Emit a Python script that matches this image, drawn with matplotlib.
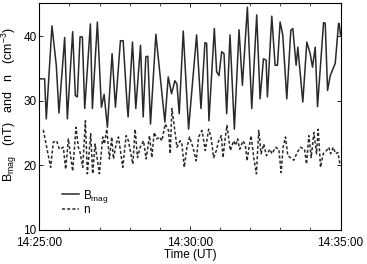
from datetime import datetime, timedelta

import matplotlib
matplotlib.use("Agg")
import matplotlib.pyplot as plt
import matplotlib.dates as mdates

# seconds after 14:25:00 UT
B_T = [0, 10.6, 14.0, 25.3, 33.9, 39.2, 50.6, 55.9, 66.5, 71.8, 75.8, 81.2, 85.8,
       90.5, 101.8, 105.8, 115.7, 123.7, 129.1, 135.7, 145.0, 151.7, 161.6, 167.0,
       175.0, 176.9, 185.6, 192.2, 201.6, 206.9, 212.2, 216.2, 221.5, 232.2, 250.1,
       256.8, 263.4, 270.1, 274.1, 278.7, 286.7, 297.3, 313.3, 322.0, 329.9, 333.3,
       337.9, 348.6, 353.2, 357.9, 363.2, 367.9, 373.2, 379.8, 388.5, 397.8, 404.5,
       414.4, 423.1, 433.0, 439.7, 446.4, 451.7, 454.3, 463.0, 469.6, 474.3, 479.6,
       484.9, 492.9, 500.9, 504.9, 511.5, 514.9, 524.8, 532.8, 539.5, 544.1, 549.5,
       554.1, 566.1, 569.4, 574.1, 579.4, 589.4, 596.0, 597.3, 600.0]
B_MAG = [33.4, 33.4, 27.2, 41.6, 35.5, 28.1, 39.8, 27.2, 40.7, 30.8, 30.6, 39.9, 39.9,
         28.8, 41.9, 28.8, 42.2, 29.0, 31.0, 25.9, 37.3, 29.0, 39.3, 39.3,
         29.3, 27.5, 39.1, 28.8, 38.6, 27.5, 36.8, 36.9, 26.4, 40.3, 26.7,
         33.7, 31.1, 33.1, 32.6, 28.0, 40.8, 25.6, 40.2, 28.8, 39.0, 38.9,
         26.9, 41.2, 34.5, 33.9, 37.6, 37.3, 28.0, 40.2, 25.6, 41.0, 32.4,
         44.5, 28.8, 43.3, 30.3, 36.5, 36.3, 30.6, 43.1, 35.5, 35.5, 42.2,
         40.2, 30.3, 40.9, 41.2, 35.5, 38.3, 29.8, 39.1, 37.3, 35.2, 38.3,
         29.1, 42.1, 42.0, 31.6, 33.9, 35.8, 42.0, 41.9, 40.2]

N_T = [8.0, 22.6, 27.9, 34.6, 39.9, 47.9, 52.6, 57.9, 66.5, 73.2, 77.8, 81.2, 86.5,
       91.8, 95.8, 102.4, 106.4, 111.1, 119.7, 126.4, 129.7, 134.4, 139.7, 144.3,
       147.7, 153.0, 157.7, 166.3, 173.0, 177.6, 186.3, 190.9, 195.6, 200.9, 207.5,
       212.9, 219.5, 224.2, 228.8, 234.2, 239.5, 244.1, 250.8, 257.4, 260.8, 264.1,
       270.8, 274.1, 280.7, 284.0, 288.7, 294.0, 299.3, 306.0, 312.6, 317.3, 324.0,
       330.6, 337.3, 341.9, 347.2, 352.6, 357.2, 362.5, 365.9, 370.5, 373.8, 380.5,
       387.2, 391.1, 395.1, 399.1, 405.8, 410.4, 413.8, 417.1, 421.7, 427.1, 432.4,
       437.0, 441.7, 447.0, 452.3, 459.0, 463.6, 470.3, 477.0, 481.6, 485.6, 490.3,
       494.9, 500.2, 506.9, 513.5, 520.2, 528.2, 532.2, 536.8, 541.5, 546.8, 552.1,
       555.4, 560.1, 565.4, 572.1, 576.7, 580.1, 585.4, 590.0, 594.7, 598.7]
N_DENS = [25.5, 19.7, 23.6, 23.8, 22.5, 22.8, 19.4, 24.1, 19.1, 25.9, 22.8, 22.0, 19.7,
          26.9, 18.7, 24.9, 18.7, 23.3, 18.7, 24.4, 23.3, 25.6, 21.0, 24.4,
          21.0, 23.3, 24.4, 19.7, 24.6, 23.8, 20.2, 25.6, 21.2, 22.8, 23.8,
          21.0, 24.6, 21.2, 25.1, 24.1, 24.4, 23.8, 26.4, 25.4, 21.8, 28.8,
          24.9, 22.8, 23.8, 23.3, 19.7, 22.8, 24.4, 22.8, 20.7, 24.4, 25.4,
          22.3, 25.6, 24.4, 21.2, 22.3, 23.8, 24.6, 21.2, 24.4, 26.2, 22.3,
          23.8, 23.1, 24.1, 22.5, 23.8, 23.1, 20.7, 22.5, 24.6, 21.2, 18.7,
          25.4, 21.8, 23.3, 21.5, 22.5, 21.8, 22.8, 22.5, 18.9, 22.8, 24.4,
          21.5, 21.2, 20.8, 22.0, 22.8, 22.5, 20.2, 24.6, 21.2, 25.1, 21.8,
          25.6, 19.7, 21.8, 22.3, 22.8, 21.8, 22.8, 21.8, 22.0, 20.2]

T0 = datetime(2000, 1, 1, 14, 25, 0)


def to_time(secs):
    return [T0 + timedelta(seconds=s) for s in secs]


plt.rcParams['font.family'] = ['Liberation Sans', 'DejaVu Sans']
plt.rcParams['font.size'] = 8.5
plt.rcParams['mathtext.default'] = 'regular'

fig = plt.figure(figsize=(3.67, 2.64), dpi=100)
ax = fig.add_axes([0.107, 0.129, 0.821, 0.861])

ax.plot(to_time(B_T), B_MAG, color='#2a2a2a', linewidth=1.1, label=r'B$_{mag}$')
ax.plot(to_time(N_T), N_DENS, color='#2a2a2a', linewidth=1.1, linestyle=(0, (2, 1.4)),
        label='n')

ax.set_xlim(T0, T0 + timedelta(minutes=10))
ax.set_ylim(10, 45.2)
ax.set_yticks([10, 20, 30, 40])
ax.xaxis.set_major_locator(mdates.MinuteLocator(byminute=[25, 30, 35]))
ax.xaxis.set_minor_locator(mdates.MinuteLocator())
ax.xaxis.set_major_formatter(mdates.DateFormatter('%H:%M:%S'))
ax.tick_params(which='both', direction='in', top=True, right=True)
ax.tick_params(which='major', length=3, width=0.6)
ax.tick_params(axis='x', which='major', pad=5)
ax.tick_params(axis='y', which='major', pad=2)
ax.tick_params(which='minor', length=2, width=0.5)
for sp in ax.spines.values():
    sp.set_linewidth(0.8)

ax.set_xlabel('Time (UT)', labelpad=0)
ax.set_ylabel(r'B$_{mag}$   (nT)   and   n   (cm$^{-3}$)', fontsize=9)
ax.yaxis.set_label_coords(-0.066, 0.55)

ax.legend(loc='lower left', bbox_to_anchor=(0.055, 0.035), frameon=False,
          handlelength=1.5, handletextpad=0.3, labelspacing=-0.05, borderpad=0)

fig.savefig('out.png', dpi=100)
